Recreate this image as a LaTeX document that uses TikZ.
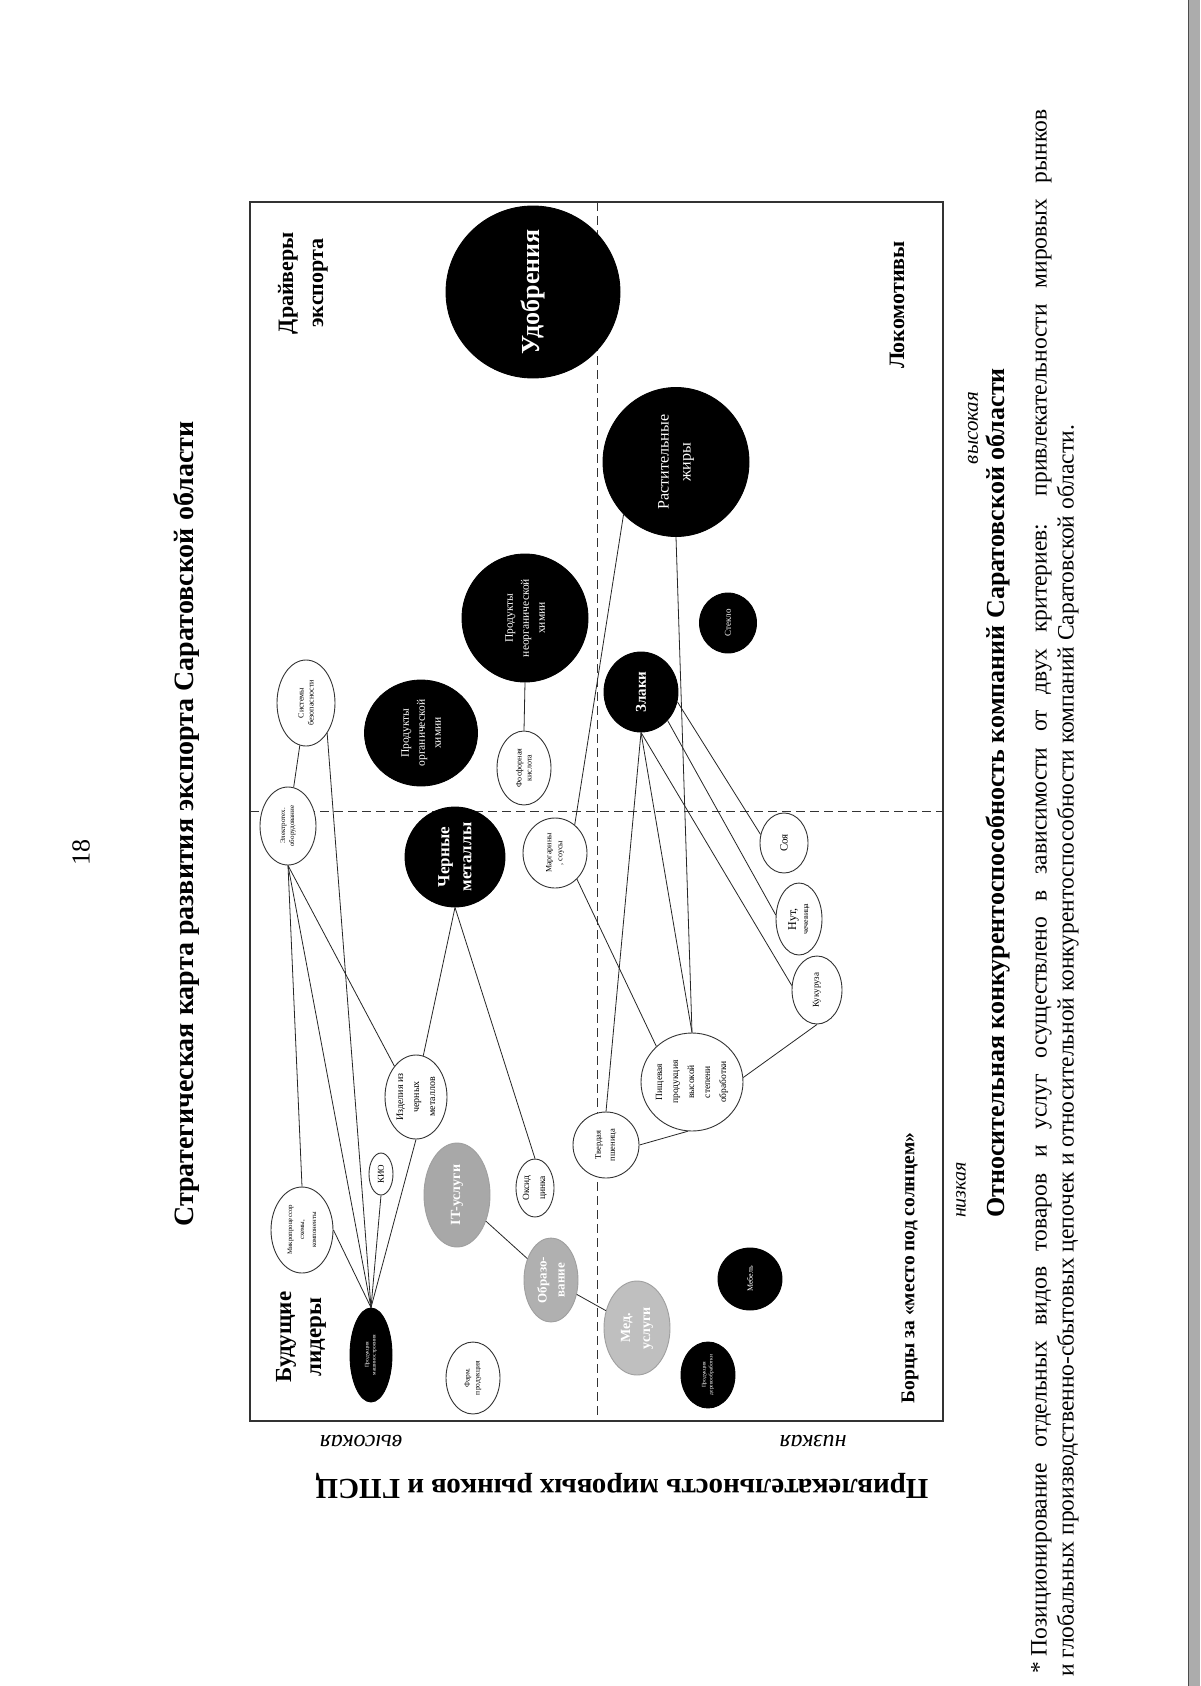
\documentclass[tikz,border=0pt]{standalone}
\usepackage{fontspec}
\setmainfont{Liberation Serif}
\usetikzlibrary{shapes.geometric}
\newcommand\fs[2]{\fontsize{#1}{#2}\selectfont}
\begin{document}
\begin{tikzpicture}[x=1pt,y=-1pt,
  bub/.style={ellipse, draw=black!80, line width=0.9pt, inner sep=0pt, fill=white},
  blk/.style={bub, fill=black, draw=black},
  gry/.style={bub, fill=gray!62, draw=gray!75},
  tx/.style={rotate=90, align=center, inner sep=0pt},
  wt/.style={tx, text=white},
  con/.style={line width=0.8pt, black!85},
  lab/.style={rotate=90, align=center, inner sep=0pt, font=\bfseries}]
\useasboundingbox (0,0) rectangle (1200,1686);
\fill[white] (0,0) rectangle (1200,1686);
\fill[gray!65] (1188,0) rectangle (1200,1686);
\draw[black!70, line width=1pt] (1188,0) -- (1188,1686);

% page number and title
\node[tx, font=\fs{26}{30}] (pnum) at (81,852) {18};
\node[lab, font=\fs{28}{32}\bfseries] (title) at (186,824) {Стратегическая карта развития экспорта Саратовской области};

% frame and quadrant dividers
\coordinate (fTL) at (250,202);
\coordinate (fBR) at (943,1421);
\draw[black!80, line width=1.2pt] (fTL) rectangle (fBR);
\coordinate (vT) at (597,202);
\coordinate (vB) at (597,1421);
\coordinate (hL) at (250,811);
\coordinate (hR) at (943,811);
\draw[black!80, line width=0.9pt, dash pattern=on 9pt off 5pt] (vT) -- (vB);
\draw[black!80, line width=0.9pt, dash pattern=on 9pt off 5pt] (hL) -- (hR);

% quadrant labels
\node[lab, font=\fs{22}{30}\bfseries] (qdr) at (303,283) {Драйверы\\экспорта};
\node[lab, font=\fs{22}{30}\bfseries] (qlok) at (897,305) {Локомотивы};
\node[lab, font=\fs{23}{30}\bfseries] (qbud) at (301,1337) {Будущие\\лидеры};
\node[lab, font=\fs{19.5}{24}\bfseries] (qbor) at (910,1268) {Борцы за «место под солнцем»};

% bubbles
\node[blk, minimum width=174pt, minimum height=172pt] (udo) at (533,292) {};
\node[blk, minimum width=146pt, minimum height=149pt] (rast) at (676,462) {};
\node[blk, minimum width=126pt, minimum height=128pt] (neo) at (525,618) {};
\node[blk, minimum width=113pt, minimum height=106pt] (org) at (421,733) {};
\node[blk, minimum width=100pt, minimum height=100pt] (cher) at (455,857) {};
\node[blk, minimum width=74pt, minimum height=80pt] (zl) at (641,692) {};
\node[blk, minimum width=57pt, minimum height=60pt] (stek) at (728,623) {};
\node[bub, minimum width=58pt, minimum height=86pt] (sys) at (306,703) {};
\node[bub, minimum width=56pt, minimum height=78pt] (el) at (288,826) {};
\node[bub, minimum width=54pt, minimum height=74pt] (fos) at (524,768) {};
\node[bub, minimum width=64pt, minimum height=70pt] (marg) at (555,853) {};
\node[bub, minimum width=48pt, minimum height=60pt] (soya) at (784,843) {};
\node[bub, minimum width=46pt, minimum height=72pt] (nut) at (799,919) {};
\node[bub, minimum width=50pt, minimum height=68pt] (kuk) at (817,990) {};
\node[bub, minimum width=62pt, minimum height=84pt] (izd) at (416,1097) {};
\node[bub, minimum width=24pt, minimum height=42pt] (kio) at (381,1174) {};
\node[bub, minimum width=62pt, minimum height=86pt] (mic) at (302,1230) {};
\node[gry, fill=gray!68, minimum width=66pt, minimum height=104pt] (it) at (457,1195) {};
\node[bub, minimum width=38pt, minimum height=58pt] (oks) at (535,1188) {};
\node[gry, minimum width=54pt, minimum height=84pt] (obr) at (551,1280) {};
\node[bub, minimum width=66pt, minimum height=66pt] (tv) at (606,1145) {};
\node[bub, minimum width=102pt, minimum height=98pt] (pish) at (692,1082) {};
\node[gry, fill=gray!50, minimum width=66pt, minimum height=94pt] (med) at (637,1328) {};
\node[blk, minimum width=64pt, minimum height=62pt] (meb) at (750,1279) {};
\node[blk, minimum width=54pt, minimum height=66pt] (pdo) at (708,1375) {};
\node[blk, minimum width=42pt, minimum height=94pt] (prm) at (371,1355) {};
\node[bub, minimum width=54pt, minimum height=72pt] (farm) at (473,1378) {};

% connectors
\draw[con] (sys) -- (el);
\draw[con] (sys.-55) -- (prm.north);
\draw[con] (el.south) -- (mic.north);
\draw[con] (el.south) -- (prm.north);
\draw[con] (el.south) -- (izd.125);
\draw[con] (mic.east) -- (prm.north);
\draw[con] (kio.south) -- (prm.north);
\draw[con] (izd.south) -- (prm.north);
\draw[con] (cher.south) -- (izd.80);
\draw[con] (cher.south) -- (oks.north);
\draw[con] (it) -- (obr);
\draw[con] (obr) -- (med);
\draw[con] (neo.south) -- (fos.north);
\draw[con] (rast.-135) -- (marg.55);
\draw[con] (rast.-90) -- (pish.north);
\draw[con] (marg.-50) -- (pish.135);
\draw[con] (zl.south) -- (tv.north);
\draw[con] (zl.south) -- (pish.north);
\draw[con] (zl.-15) -- (soya.160);
\draw[con] (zl.-47) -- (nut.170);
\draw[con] (zl.south) -- (kuk.170);
\draw[con] (pish.5) -- (kuk.south);
\draw[con] (tv.east) -- (pish.-95);

% bubble texts
\node[wt, font=\fs{26}{30}\bfseries] (udo-t) at (udo) {Удобрения};
\node[wt, font=\fs{16}{22}] (rast-t) at (rast) {Растительные\\жиры};
\node[wt, font=\fs{11.5}{16}] (neo-t) at (neo) {Продукты\\неорганической\\химии};
\node[wt, font=\fs{11.5}{16}] (org-t) at (org) {Продукты\\органической\\химии};
\node[wt, font=\fs{17}{22}\bfseries] (cher-t) at (cher) {Черные\\металлы};
\node[wt, font=\fs{15}{18}\bfseries] (zl-t) at (zl) {Злаки};
\node[wt, font=\fs{9}{11}] (stek-t) at (stek) {Стекло};
\node[tx, font=\fs{8}{10}] (sys-t) at (sys) {Системы\\безопасности};
\node[tx, font=\fs{7}{9}] (el-t) at (el) {Электротех.\\оборудование};
\node[tx, font=\fs{8}{10}] (fos-t) at (fos) {Фосфорная\\кислота};
\node[tx, font=\fs{8}{11}] (marg-t) at (marg) {Маргарины\\, соусы};
\node[tx, font=\fs{11}{13}] (soya-t) at (soya) {Соя};
\node[tx, font=\fs{12}{12}] (nut-t) at (nut) {Нут,\\{\fs{8}{10}чечевица}};
\node[tx, font=\fs{9}{11}] (kuk-t) at (kuk) {Кукуруза};
\node[tx, font=\fs{10}{16}] (izd-t) at (izd) {Изделия из\\черных\\металлов};
\node[tx, font=\fs{9}{11}] (kio-t) at (kio) {КИО};
\node[tx, font=\fs{6.8}{12}] (mic-t) at (mic) {Микропроцессор\\схемы,\\компоненты};
\node[wt, font=\fs{14}{18}\bfseries] (it-t) at (it) {IT-услуги};
\node[tx, font=\fs{9.5}{16}] (oks-t) at (oks) {Оксид\\цинка};
\node[wt, font=\fs{13}{18}\bfseries] (obr-t) at (obr) {Образо-\\вание};
\node[tx, font=\fs{7.5}{10}] (farm-t) at (farm) {Фарм.\\продукция};
\node[tx, font=\fs{8.5}{14}] (tv-t) at (tv) {Твердая\\пшеница};
\node[tx, font=\fs{9.5}{16}] (pish-t) at (pish) {Пищевая\\продукция\\высокой\\степени\\обработки};
\node[wt, font=\fs{14}{20}\bfseries] (med-t) at (med) {Мед.\\услуги};
\node[wt, font=\fs{8}{10}] (meb-t) at (meb) {Мебель};
\node[wt, font=\fs{5.5}{7}] (pdo-t) at (pdo) {Продукция\\деревообработки};
\node[wt, font=\fs{5.5}{7}] (prm-t) at (prm) {Продукция\\машиностроения};

% axis labels
\node[tx, font=\fs{20}{22}\itshape] (xlo) at (961,1190) {низкая};
\node[tx, font=\fs{21}{22}\itshape] (xhi) at (973,428) {высокая};
\node[lab, font=\fs{26}{30}\bfseries] (xlab) at (998,793) {Относительная конкурентоспособность компаний Саратовской области};
\node[rotate=180, inner sep=0pt, font=\fs{24}{26}\itshape] (yhi) at (361,1441) {высокая};
\node[rotate=180, inner sep=0pt, font=\fs{24}{26}\itshape] (ylo) at (813,1441) {низкая};
\node[rotate=180, inner sep=0pt, font=\fs{29}{32}\bfseries] (ylab) at (622,1486) {Привлекательность мировых рынков и ГПСЦ};

% footnote
\node[tx, anchor=south west, font=\fs{23.5}{25}] (cap1) at (1052,1674) {\makebox[1564pt][s]{*\hspace{6pt}Позиционирование отдельных видов товаров и услуг осуществлено в зависимости от двух критериев: привлекательности мировых рынков}};
\node[tx, anchor=south west, font=\fs{23.5}{25}] (cap2) at (1079,1677) {и глобальных производственно-сбытовых цепочек и относительной конкурентоспособности компаний Саратовской области.};
\end{tikzpicture}
\end{document}
